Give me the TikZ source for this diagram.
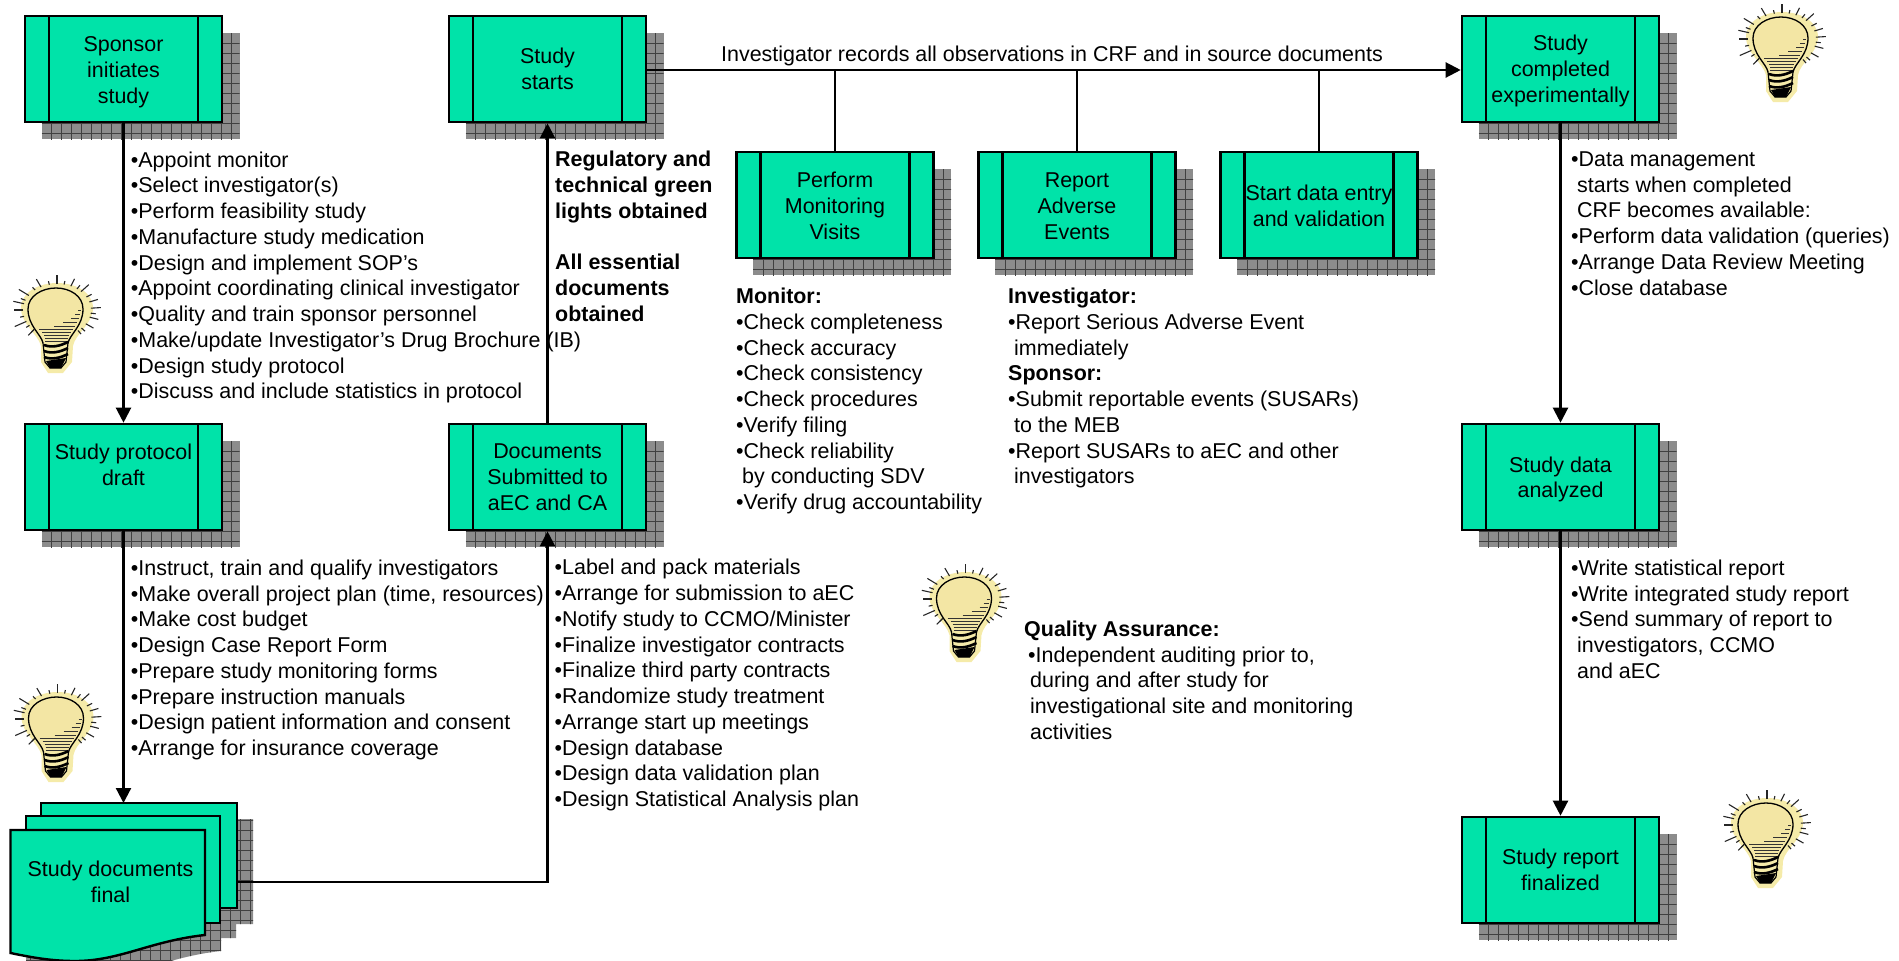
\documentclass[tikz,border=0pt]{standalone}
\usepackage{fontspec}
\setmainfont{Liberation Sans}
\usetikzlibrary{arrows.meta}
\definecolor{boxgreen}{HTML}{00E3A9}
\definecolor{halo}{HTML}{F5EBA9}
\definecolor{bulbc}{HTML}{F3E6A4}
\tikzset{
  x=1pt,y=-1pt,
  shadowgrid/.style={fill=black!45,path picture={
    \foreach \i in {1,...,24}{
      \draw[black!75,line width=.7pt] (path picture bounding box.north west)++(\i*10,0)--++(0,300);
      \draw[black!75,line width=.7pt] (path picture bounding box.north west)++(0,\i*10)--++(300,0);
    }}},
  shadownode/.style={shadowgrid,minimum width=198pt,minimum height=106pt,inner sep=0pt,draw=none},
  procbox/.style={draw=black,line width=2.6pt,fill=boxgreen,minimum width=197pt,minimum height=106pt,
    inner sep=0pt,
    path picture={
      \draw[line width=2.2pt] (path picture bounding box.north west)++(24,0)--++(0,110);
      \draw[line width=2.2pt] (path picture bounding box.north east)++(-24,0)--++(0,110);}},
  boxtext/.style={inner sep=0pt,align=center,font=\fontsize{21.45}{25.8}\selectfont},
  sheet/.style={draw=black,line width=2.4pt,fill=boxgreen,line join=miter},
  listtext/.style={anchor=north west,inner sep=0pt,align=left,font=\fontsize{21.45}{25.75}\selectfont},
  flow/.style={draw=black,line width=2.2pt},
  flowarrow/.style={flow,-{Triangle[length=15pt,width=15pt]}},
  pics/lightbulb/.style={code={
    \fill[halo] (-34,-2) .. controls (-34,-18) and (-16,-27) .. (2,-27) .. controls (20,-27) and (38,-18) .. (38,-2) .. controls (38,14) and (20,24) .. (18,36) -- (17,52) -- (8,63) -- (-7,63) -- (-14,52) -- (-14,36) .. controls (-17,24) and (-34,14) .. cycle;
    \draw[black,line width=1.3pt,fill=bulbc] (-12,33) .. controls (-14,24) and (-27,16) .. (-27,-1) .. controls (-27,-14) and (-13,-22) .. (1,-22) .. controls (15,-22) and (28,-14) .. (28,-1) .. controls (28,16) and (15,24) .. (13,33);
    \foreach \yy/\p/\q in {0/23/26,4/20/25,8/16/24,12/8/22,16/-1/20,19/-16/18,22/-13/16,25/-11/14,28/-10/13,31/-10/13}{\draw[black!80,line width=.8pt] (\p,\yy) -- (\q,\yy);}
    \foreach \yy in {35,41,47}{\draw[black,line width=2.6pt] (-11,\yy) .. controls (-3,\yy+3) and (5,\yy+1) .. (13,\yy-3);}
    \draw[black,line width=1.2pt] (-12,33) -- (-10,52) -- (-5,58) -- (6,58) -- (11,52) -- (13,33);
    \fill[black] (-9,51) -- (11,48) -- (6,58) -- (-5,58) -- cycle;
    \foreach \ang/\len in {-90/10,-103/4,-118/10,-130/4,-146/12,-158/5,-166/11,-180/9,-194/4,-206/13,-216/4,-228/9,-78/4,-66/9,-54/5,-45/11,-30/6,-18/9,-4/10,7/5,16/9,32/9,44/5,52/5,132/5}{
      \draw[black!85,line width=1.1pt] ({2+cos(\ang)*34},{sin(\ang)*26}) -- ({2+cos(\ang)*(34+\len)},{sin(\ang)*(26+0.9*\len)});}
  }}
}
\newcommand{\gbox}[5]{%
  \node[shadownode] (#1s) at (#2+17,#3+17) {};
  \node[procbox] (#1) at (#2,#3) {};
  \node[boxtext] (#1t) at (#2,#3+#5) {#4};
}
\begin{document}
\begin{tikzpicture}
\useasboundingbox (0,0) rectangle (1899,961);
% shadows and boxes
\gbox{sponsor}{123.5}{69}{Sponsor\\initiates\\study}{3}
\gbox{starts}{547.5}{69}{Study\\starts}{0}
\gbox{completed}{1560.5}{69}{Study\\completed\\experimentally}{2}
\gbox{monitor}{835}{205}{Perform\\Monitoring\\Visits}{1}
\gbox{adverse}{1077}{205}{Report\\Adverse\\Events}{1}
\gbox{entry}{1319}{205}{Start data entry\\and validation}{1}
\gbox{protocol}{123.5}{477}{Study protocol\\draft\\~}{0.5}
\gbox{submitted}{547.5}{477}{Documents\\Submitted to\\aEC and CA}{0}
\gbox{analyzed}{1560.5}{477}{Study data\\analyzed}{2.5}
\gbox{report}{1560.5}{870}{Study report\\finalized}{0}
% document stack
\begin{scope}
\clip (57,819) -- (253,819) -- (253,924) -- (236,924) -- (236,938) -- (221,938) -- (221,951) .. controls (166,957) and (136,977) .. (91,977) -- (26,977) -- (26,850) -- cycle;
\fill[black!45] (20,810) rectangle (260,980);
\foreach \i in {0,...,24}{\draw[black!75,line width=.7pt] (20+\i*10,810) -- (20+\i*10,980);}
\foreach \i in {0,...,17}{\draw[black!75,line width=.7pt] (20,810+\i*10) -- (260,810+\i*10);}
\end{scope}
\path[sheet] (41,803) rectangle (237,908);
\path[sheet] (26,816) rectangle (220,923);
\path[sheet] (10.5,830) -- (205,830) -- (205,935) .. controls (150,941) and (120,961) .. (75,961) .. controls (50,961) and (30,957) .. (10.5,953) -- cycle;
\node[boxtext] (docs) at (110.5,882) {Study documents\\final};
\coordinate (stackin) at (123.5,803);
\coordinate (stackout) at (237,882);
% connectors
\draw[flowarrow] (sponsor.south) -- (protocol.north);
\draw[flowarrow] (protocol.south) -- (stackin);
\draw[flowarrow] (stackout) -| (submitted.south);
\draw[flowarrow] (submitted.north) -- (starts.south);
\draw[flowarrow] (starts.east|-0,70) -- (completed.west|-0,70);
\draw[flow] (monitor.north) -- (835,70);
\draw[flow] (adverse.north) -- (1077,70);
\draw[flow] (entry.north) -- (1319,70);
\draw[flowarrow] (completed.south) -- (analyzed.north);
\draw[flowarrow] (analyzed.south) -- (report.north);
% labels
\node[anchor=center,inner sep=0pt,font=\fontsize{21.45}{25.75}\selectfont] (rec) at (1052,55.5) {Investigator records all observations in CRF and in source documents};
\node[listtext] (t1) at (130.7,151.5) {•Appoint monitor\\•Select investigator(s)\\•Perform feasibility study\\•Manufacture study medication\\•Design and implement SOP’s\\•Appoint coordinating clinical investigator\\•Quality and train sponsor personnel\\•Make/update Investigator’s Drug Brochure (IB)\\•Design study protocol\\•Discuss and include statistics in protocol};
\node[listtext] (t2) at (130.7,559.5) {•Instruct, train and qualify investigators\\•Make overall project plan (time, resources)\\•Make cost budget\\•Design Case Report Form\\•Prepare study monitoring forms\\•Prepare instruction manuals\\•Design patient information and consent\\•Arrange for insurance coverage};
\node[listtext] (t3) at (554.5,559) {•Label and pack materials\\•Arrange for submission to aEC\\•Notify study to CCMO/Minister\\•Finalize investigator contracts\\•Finalize third party contracts\\•Randomize study treatment\\•Arrange start up meetings\\•Design database\\•Design data validation plan\\•Design Statistical Analysis plan};
\node[listtext] (t4) at (555,151) {\textbf{Regulatory and}\\\textbf{technical green}\\\textbf{lights obtained}\\~\\\textbf{All essential}\\\textbf{documents}\\\textbf{obtained}};
\node[listtext] (t5) at (736,288) {\textbf{Monitor:}\\•Check completeness\\•Check accuracy\\•Check consistency\\•Check procedures\\•Verify filing\\•Check reliability\\\hspace*{6pt}by conducting SDV\\•Verify drug accountability};
\node[listtext] (t6) at (1008,288) {\textbf{Investigator:}\\•Report Serious Adverse Event\\\hspace*{6pt}immediately\\\textbf{Sponsor:}\\•Submit reportable events (SUSARs)\\\hspace*{6pt}to the MEB\\•Report SUSARs to aEC and other\\\hspace*{6pt}investigators};
\node[listtext] (t7) at (1571,151.5) {•Data management\\\hspace*{6pt}starts when completed\\\hspace*{6pt}CRF becomes available:\\•Perform data validation (queries)\\•Arrange Data Review Meeting\\•Close database};
\node[listtext] (t8) at (1571,559.5) {•Write statistical report\\•Write integrated study report\\•Send summary of report to\\\hspace*{6pt}investigators, CCMO\\\hspace*{6pt}and aEC};
\node[listtext] (t9) at (1024,620.5) {\textbf{Quality Assurance:}\\\hspace*{4pt}•Independent auditing prior to,\\\hspace*{6pt}during and after study for\\\hspace*{6pt}investigational site and monitoring\\\hspace*{6pt}activities};
% bulbs
\pic at (55,310) {lightbulb};
\pic at (55.5,719) {lightbulb};
\pic at (963.5,599) {lightbulb};
\pic at (1780,39) {lightbulb};
\pic at (1765,825) {lightbulb};
\end{tikzpicture}
\end{document}
